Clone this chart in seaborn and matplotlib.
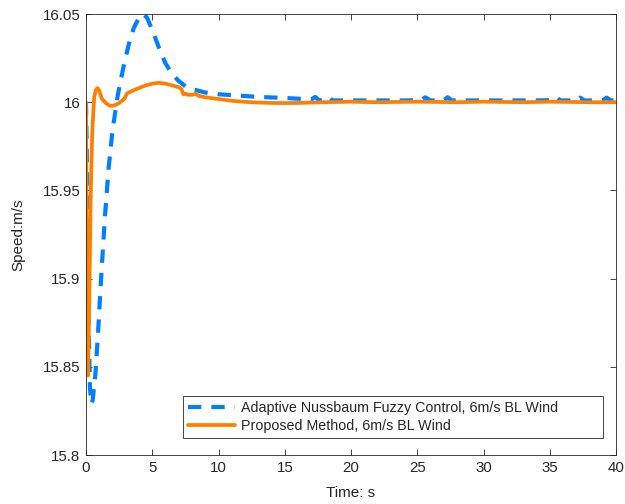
import numpy as np
import pandas as pd
import seaborn as sns
import matplotlib
matplotlib.use("Agg")
import matplotlib.pyplot as plt

# Adaptive Nussbaum Fuzzy Control (blue dashed)
t_anfc = [0, 0.1, 0.2, 0.3, 0.4, 0.5, 0.7, 0.9, 1.1, 1.4, 1.7, 2.0, 2.4, 2.8, 3.2, 3.6,
          4.0, 4.3, 4.6, 5.0, 5.5, 6.0, 6.5, 7.0, 7.5, 8.0, 8.5, 9.0, 10, 11, 12, 13, 14,
          15, 16, 17, 17.3, 17.6, 18, 18.3, 18.6, 19, 20, 22, 24, 25.3, 25.6, 26, 27, 27.3,
          27.6, 28, 30, 32, 34, 35.2, 35.5, 35.8, 37, 37.3, 37.6, 39, 39.3, 39.6, 40]
v_anfc = [16.0, 15.95, 15.875, 15.838, 15.829, 15.831, 15.845, 15.868, 15.895, 15.932,
          15.962, 15.984, 16.004, 16.019, 16.032, 16.042, 16.048, 16.05, 16.048, 16.041,
          16.031, 16.022, 16.016, 16.012, 16.009, 16.0075, 16.0065, 16.0055, 16.0045,
          16.004, 16.0035, 16.003, 16.0027, 16.0024, 16.002, 16.0015, 16.003, 16.001,
          16.0015, 16.003, 16.001, 16.001, 16.001, 16.001, 16.001, 16.0012, 16.0028, 16.001,
          16.001, 16.0028, 16.001, 16.001, 16.001, 16.001, 16.001, 16.0012, 16.0028, 16.001,
          16.001, 16.0026, 16.001, 16.001, 16.0026, 16.001, 16.001]

# Proposed Method (orange solid)
t_prop = [0, 0.05, 0.1, 0.15, 0.25, 0.35, 0.47, 0.62, 0.75, 0.87, 1.0, 1.2, 1.5, 1.8,
          2.1, 2.5, 2.9, 3.0, 3.1, 3.5, 4.0, 4.5, 5.0, 5.5, 6.0, 6.5, 7.0, 7.2, 7.35,
          7.5, 7.7, 8.0, 8.3, 8.5, 9.0, 10, 11, 12, 13, 14, 15, 16, 17, 18, 20, 22, 25, 28,
          30, 33, 35, 38, 40]
v_prop = [16.0, 15.92, 15.86, 15.845, 15.888, 15.945, 15.983, 16.003, 16.007, 16.008,
          16.0065, 16.002, 15.9995, 15.998, 15.998, 15.9995, 16.002, 16.0035, 16.005,
          16.0065, 16.008, 16.0095, 16.0105, 16.011, 16.0105, 16.0095, 16.0085, 16.0075,
          16.0045, 16.0048, 16.0042, 16.0042, 16.0048, 16.0036, 16.0028, 16.0018, 16.0008,
          16.0002, 15.9998, 15.9996, 15.9995, 15.9996, 15.9998, 16.0, 16.0003, 16.0, 16.0003,
          16.0, 16.0003, 16.0, 16.0003, 16.0, 16.0]

label_a = "Adaptive Nussbaum Fuzzy Control, 6m/s BL Wind"
label_p = "Proposed Method, 6m/s BL Wind"

df_a = pd.DataFrame({"t": t_anfc, "v": v_anfc})
df_p = pd.DataFrame({"t": t_prop, "v": v_prop})

sns.set_theme(style="white")
plt.rcParams["font.family"] = ["Liberation Sans", "DejaVu Sans"]

fig = plt.figure(figsize=(6.25, 5.04), dpi=100)
ax = fig.add_axes([0.1376, 0.0972, 0.848, 0.875])

blue = "#0080ff"
orange = "#ff8000"
sns.lineplot(data=df_a, x="t", y="v", ax=ax, color=blue, linewidth=3.0,
             label=label_a, dashes=False)
ax.lines[-1].set_dashes((3.2, 2.4))
sns.lineplot(data=df_p, x="t", y="v", ax=ax, color=orange, linewidth=2.7,
             label=label_p)

ax.set_xlim(0, 40)
ax.set_ylim(15.8, 16.05)
ax.set_xticks([0, 5, 10, 15, 20, 25, 30, 35, 40])
ax.set_yticks([15.8, 15.85, 15.9, 15.95, 16.0, 16.05])
ax.set_yticklabels(["15.8", "15.85", "15.9", "15.95", "16", "16.05"])
ax.set_xlabel("Time: s", fontsize=11)
ax.set_ylabel("Speed:m/s", fontsize=11)
ax.yaxis.set_label_coords(-0.115, 0.5)
ax.xaxis.set_label_coords(0.5, -0.07)
ax.tick_params(axis="both", which="both", direction="in", length=4, width=0.6,
               labelsize=10.8, colors="#262626", top=True, right=True,
               bottom=True, left=True, pad=4)
for s in ax.spines.values():
    s.set_color("#262626")
    s.set_linewidth(0.6)

leg = ax.legend(loc="lower left", bbox_to_anchor=(0.1834, 0.0385, 0.792, 0.095),
                mode="expand", borderaxespad=0, fontsize=10.3, frameon=True,
                fancybox=False, framealpha=1, edgecolor="#262626", handlelength=3.3,
                borderpad=0.35, labelspacing=0.3, handletextpad=0.4)
leg.get_frame().set_linewidth(0.6)

fig.savefig("out.png", dpi=100, facecolor="white")
